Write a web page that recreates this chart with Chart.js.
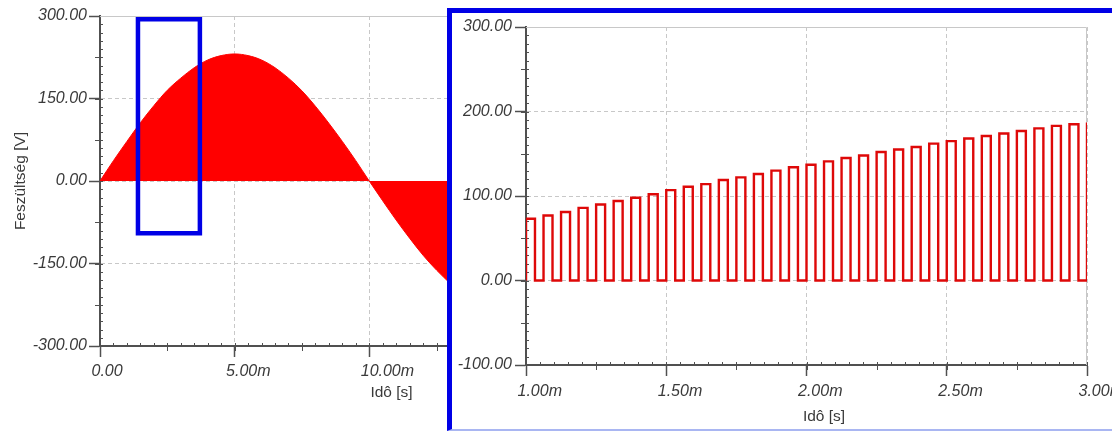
<!DOCTYPE html>
<html>
<head>
<meta charset="utf-8">
<script src="https://cdn.jsdelivr.net/npm/chart.js@4/dist/chart.umd.min.js"></script>
<style>
  html, body { margin: 0; padding: 0; background: #ffffff; width: 1112px; height: 434px; overflow: hidden; position: relative; }
  #overviewBox { position: absolute; left: 0; top: 0; width: 450px; height: 434px; }
  #detailFrame {
    position: absolute; left: 447px; top: 8px; width: 698px; height: 416px;
    border-left: 5px solid #0000e6; border-top: 5px solid #0000e6; border-bottom: 2px solid #a9b6f2;
    background: #ffffff; overflow: hidden;
  }
  #detailBox { position: absolute; left: 0; top: 0; width: 698px; height: 416px; }
</style>
</head>
<body>
<div id="overviewBox"><canvas id="overview"></canvas></div>
<div id="detailFrame"><div id="detailBox"><canvas id="detail"></canvas></div></div>
<script>
// ---- Overview: output voltage envelope over one part of the mains period ----
const envelopeTimeMs = [0, 0.5, 1, 1.5, 2, 2.5, 3, 3.5, 4, 4.5, 5, 5.5, 6, 6.5, 7, 7.5, 8, 8.5, 9, 9.5, 10, 10.5, 11, 11.5, 12, 12.5, 13];
const envelopeVolts  = [0, 37, 72, 106, 137, 165, 187, 206, 220, 228, 231, 228, 220, 206, 187, 164, 136, 105, 72, 37, 0, -36, -71, -104, -135, -162, -186];

// Region shown in the detail view (time in ms, voltage in V)
const zoomBoxTimeMs = [1.41, 3.71];
const zoomBoxVolts  = [-95, 294];

const overviewXTicks = [0, 5, 10];
const overviewYTicks = [-300, -150, 0, 150, 300];

// ---- Detail: individual PWM pulses between 1 ms and 3 ms ----
const pulseStartMs   = 1.0;
const pulsePeriodMs  = 0.0625;
const pulseOnMs      = 0.032;
const pulseHeights   = [73, 77, 81, 86, 90, 94, 98, 102, 107, 111, 114, 119, 122, 126, 130, 134,
                        137, 141, 145, 148, 152, 155, 158, 162, 165, 168, 171, 174, 177, 180, 183, 185, 187];

const detailXTicks = [1.0, 1.5, 2.0, 2.5, 3.0];
const detailYTicks = [-100, 0, 100, 200, 300];

const FONT = "'Liberation Sans', Arial, sans-serif";
const INK = '#3a3a3a';
const AXIS = '#505050';
const GRID = '#c8c8c8';
Chart.defaults.font.family = FONT;
Chart.defaults.color = INK;

const fmtVolt = v => v.toFixed(2);
const fmtTime = v => (v === 0 ? '0.00' : v.toFixed(2) + 'm');

// Small and medium tick marks between the labelled ones
const minorTicks = {
  id: 'minorTicks',
  beforeDatasetsDraw(chart, args, o) {
    if (!o || !o.ySmall) return;
    const { ctx } = chart;
    const xs = chart.scales.x, ys = chart.scales.y;
    ctx.save();
    ctx.strokeStyle = AXIS;
    ctx.lineWidth = 1;
    const mark = (x1, y1, x2, y2) => { ctx.beginPath(); ctx.moveTo(x1, y1); ctx.lineTo(x2, y2); ctx.stroke(); };
    const steps = (min, max, step, fn) => {
      const n = Math.round((max - min) / step);
      for (let i = 0; i <= n; i++) fn(min + i * step);
    };
    const ax = ys.right, ay = xs.top;
    steps(ys.min, ys.max, o.ySmall, v => { const p = Math.round(ys.getPixelForValue(v)) + 0.5; mark(ax, p, ax + 3, p); });
    steps(ys.min, ys.max, o.yMedium, v => { const p = Math.round(ys.getPixelForValue(v)) + 0.5; mark(ax - 5, p, ax, p); });
    steps(xs.min, xs.max, o.xSmall, v => { const p = Math.round(xs.getPixelForValue(v)) + 0.5; mark(p, ay, p, ay - 3); });
    steps(xs.min, xs.max, o.xMedium, v => { const p = Math.round(xs.getPixelForValue(v)) + 0.5; mark(p, ay, p, ay + 5); });
    ctx.restore();
  }
};

// Solid top/right edge of the plotting area
const plotFrame = {
  id: 'plotFrame',
  beforeDatasetsDraw(chart) {
    const { ctx, chartArea: a } = chart;
    ctx.save();
    ctx.strokeStyle = GRID;
    ctx.lineWidth = 1;
    ctx.beginPath();
    ctx.moveTo(a.left, a.top + 0.5);
    ctx.lineTo(a.right - 0.5, a.top + 0.5);
    ctx.lineTo(a.right - 0.5, a.bottom);
    ctx.stroke();
    ctx.restore();
  }
};

// Axis caption placed relative to the plotting area
const caption = {
  id: 'caption',
  afterDraw(chart, args, o) {
    if (!o || !o.text) return;
    const { ctx, chartArea: a } = chart;
    ctx.save();
    ctx.font = `${o.size}px ${FONT}`;
    ctx.fillStyle = INK;
    ctx.textAlign = 'center';
    ctx.textBaseline = 'middle';
    ctx.fillText(o.text, a.left + o.dx, a.bottom + o.dy);
    ctx.restore();
  }
};

function axisCommon(tickValues, fmt, extra) {
  return Object.assign({
    type: 'linear',
    afterBuildTicks: s => { s.ticks = tickValues.map(v => ({ value: v })); },
    grid: { color: GRID, lineWidth: 1, drawTicks: true, tickLength: 11, tickColor: AXIS, tickWidth: 1.5, tickBorderDash: [] },
    border: { display: true, color: AXIS, width: 2, dash: [4, 3] },
    ticks: { callback: v => fmt(v), color: INK, font: { size: 16, style: 'italic' }, autoSkip: false, maxRotation: 0 }
  }, extra);
}

// ---------- overview chart ----------
const rectPoints = [
  { x: zoomBoxTimeMs[0], y: zoomBoxVolts[1] },
  { x: zoomBoxTimeMs[1], y: zoomBoxVolts[1] },
  { x: zoomBoxTimeMs[1], y: zoomBoxVolts[0] },
  { x: zoomBoxTimeMs[0], y: zoomBoxVolts[0] },
  { x: zoomBoxTimeMs[0], y: zoomBoxVolts[1] }
];
const envelopePoints = envelopeTimeMs.map((t, i) => ({ x: t, y: envelopeVolts[i] }));

const ovX = axisCommon(overviewXTicks, fmtTime, { min: 0, max: 13, afterFit: s => { s.height = 88; } });
ovX.ticks.align = 'start';
ovX.ticks.labelOffset = -8.5;
ovX.ticks.padding = 4.5;
const ovY = axisCommon(overviewYTicks, fmtVolt, {
  min: -300, max: 300, afterFit: s => { s.width = 100; },
  title: { display: true, text: 'Feszültség [V]', color: INK, font: { size: 15.5 }, padding: { top: 11.7, bottom: 0 } }
});
ovY.ticks.padding = 2;

new Chart(document.getElementById('overview'), {
  type: 'line',
  data: {
    datasets: [
      { data: rectPoints, borderColor: '#0000e6', borderWidth: 4.5, fill: false, pointRadius: 0, tension: 0,
        borderJoinStyle: 'miter', borderCapStyle: 'square', clip: false },
      { data: envelopePoints, borderColor: '#ff0000', backgroundColor: '#ff0000', borderWidth: 1, fill: 'origin',
        pointRadius: 0, cubicInterpolationMode: 'monotone' }
    ]
  },
  options: {
    responsive: true, maintainAspectRatio: false, animation: false, devicePixelRatio: 1,
    layout: { padding: { top: 16, left: 0, right: 0, bottom: 0 } },
    plugins: {
      legend: { display: false }, tooltip: { enabled: false },
      minorTicks: { ySmall: 15, yMedium: 75, xSmall: 0.5, xMedium: 2.5 },
      caption: { text: 'Idô [s]', size: 15.5, dx: 291.5, dy: 47 }
    },
    scales: { x: ovX, y: ovY }
  },
  plugins: [minorTicks, plotFrame, caption]
});

// ---------- detail chart ----------
const pulsePoints = [];
pulseHeights.forEach((h, k) => {
  const t0 = pulseStartMs + k * pulsePeriodMs;
  const t1 = t0 + pulseOnMs;
  pulsePoints.push({ x: t0, y: 0 }, { x: t0, y: h }, { x: t1, y: h }, { x: t1, y: 0 });
});

const dtX = axisCommon(detailXTicks, fmtTime, { min: 1, max: 3, afterFit: s => { s.height = 64; } });
dtX.ticks.align = 'start';
dtX.ticks.labelOffset = -8.5;
dtX.ticks.padding = 6.4;
const dtY = axisCommon(detailYTicks, fmtVolt, { min: -100, max: 300, afterFit: s => { s.width = 74; } });
dtY.ticks.padding = 3;

new Chart(document.getElementById('detail'), {
  type: 'line',
  data: {
    datasets: [
      { data: pulsePoints, borderColor: 'rgb(222,8,8)', borderWidth: 2.4, fill: false, pointRadius: 0, tension: 0,
        borderJoinStyle: 'miter' }
    ]
  },
  options: {
    responsive: true, maintainAspectRatio: false, animation: false, devicePixelRatio: 1,
    layout: { padding: { top: 14, left: 0, right: 63, bottom: 0 } },
    plugins: {
      legend: { display: false }, tooltip: { enabled: false },
      minorTicks: { ySmall: 10, yMedium: 50, xSmall: 0.05, xMedium: 0.25 },
      caption: { text: 'Idô [s]', size: 15.5, dx: 298, dy: 52 }
    },
    scales: { x: dtX, y: dtY }
  },
  plugins: [minorTicks, plotFrame, caption]
});
</script>
</body>
</html>
